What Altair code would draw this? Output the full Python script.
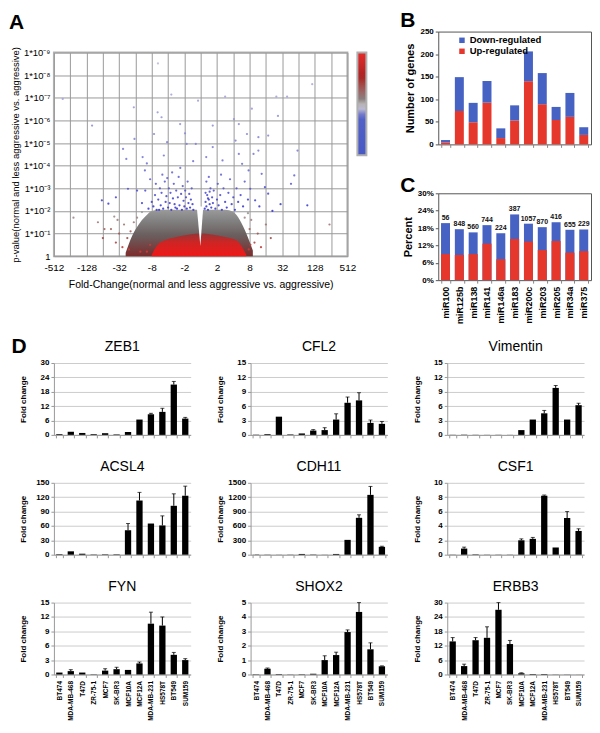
import json
import altair as alt
import pandas as pd

FONT = "Liberation Sans"
RED = "#e5372b"
BLUE = "#4662c2"

# ---------------- Panel A : volcano plot ----------------
x_tick_values = list(range(-9, 10))
x_tick_labels = ["-512", "", "-128", "", "-32", "", "-8", "", "-2", "", "2", "", "8", "", "32", "", "128", "", "512"]
y_tick_values = list(range(0, 10))
y_tick_labels = ["1", "1*10⁻¹", "1*10⁻²", "1*10⁻³", "1*10⁻⁴", "1*10⁻⁵", "1*10⁻⁶", "1*10⁻⁷", "1*10⁻⁸", "1*10⁻⁹"]

# envelope of the dense gray cloud (signed log2 fold change, -log10 p)
cloud_x = [-4.6, -4.2, -3.8, -3.4, -3.0, -2.5, -1.5, -0.5, 0.0, 0.5, 1.5, 2.0, 2.4, 2.8, 3.2]
cloud_top = [0.15, 0.9, 1.4, 1.75, 2.0, 2.05, 2.05, 2.05, 2.05, 2.05, 2.05, 1.95, 1.6, 1.0, 0.25]
# envelope of the dense red core
core_x = [-3.0, -2.7, -2.2, -1.5, -0.8, -0.2, 0.0, 0.2, 0.8, 1.5, 2.2, 2.5, 2.8]
core_top = [0.05, 0.45, 0.7, 0.85, 0.95, 1.0, 1.0, 1.0, 0.95, 0.85, 0.7, 0.45, 0.05]
# empty V-shaped gap at fold change ~ 1
gap_x = [-0.24, -0.02, 0.16]
gap_low = [2.2, 0.45, 2.2]
gap_high = [2.2, 2.2, 2.2]

# scattered individual genes
pts_x = [-3.2, -3.0, -2.9, -2.8, -2.7, -2.6, -2.5, -2.45, -2.4, -2.3, -2.2, -2.15, -2.1, -2.0, -1.95,
         -1.9, -1.85, -1.8, -1.7, -1.65, -1.6, -1.5, -1.45, -1.4, -1.35, -1.3, -1.2, -1.15, -1.1, -1.05,
         -1.0, -0.95, -0.9, -0.85, -0.8, -0.75, -0.7, -0.65, -0.6, -0.55, -0.5, -0.45, -2.75, -3.4, -3.6,
         -2.35, -1.75, -1.25, -2.05, -3.1, -1.55, -2.55,
         0.25, 0.3, 0.35, 0.4, 0.45, 0.5, 0.55, 0.6, 0.65, 0.7, 0.75, 0.8, 0.9, 1.0, 1.05, 1.1, 1.2, 1.3,
         1.4, 1.5, 1.6, 1.7, 1.8, 1.9, 2.0, 2.1, 2.2, 2.3, 2.45, 2.6, 2.7, 0.35, 0.5, 1.25, 2.9, 0.3, 0.45, 0.55,
         -8.46, -2.62, -1.8, -4.1, -6.66, -2.64, -2.4, -1.26, 1.5, 3.14, 4.64, 5.3, 6.84, 4.74, 4.14, 5.94,
         5.74, 5.54, 6.54, -5.66, -6.06, -4.56, -4.46, -4.06, -4.76, -3.56, -3.42, -2.86, -2.26, -2.06, -0.86,
         -0.46, -0.3, 0.34, 0.74, 1.34, 2.14, 2.34, 2.54, 2.94, 3.24, 3.54, 3.74, 3.94, 3.04, 3.34, 4.14, 2.04,
         2.84, 3.54, 2.34, 0.74, -0.96, -0.16, -7.8, 7.9, -5.2, 4.9, -3.9, -3.3, 3.6, 4.4, -5.9, -6.3,
         -4.8, -4.5, -4.3, -4.1, -3.9, -3.6, -5.0, -5.2, -4.7, -5.5, -5.1, -5.3, -6.0, 3.0, 3.3, 3.1, 2.7,
         3.5, 3.7, 2.9, 4.0, 4.3, -3.3, -3.1, 2.95, 3.05, -4.4, -3.7]
pts_y = [2.1, 2.4, 2.2, 2.7, 2.05, 2.5, 3.0, 2.25, 2.8, 2.1, 3.3, 2.4, 2.65, 2.15, 3.0,
         2.35, 2.8, 2.05, 2.55, 3.2, 2.3, 2.9, 2.1, 2.6, 3.5, 2.25, 2.75, 2.05, 3.1, 2.45,
         2.2, 2.9, 2.6, 2.1, 3.3, 2.35, 2.75, 2.15, 2.5, 3.0, 2.3, 2.05, 3.2, 2.9, 2.35,
         3.6, 3.7, 3.9, 3.45, 3.4, 2.15, 2.05,
         2.1, 2.4, 2.2, 2.7, 2.05, 2.5, 2.3, 3.0, 2.15, 2.6, 2.35, 2.9, 2.1, 2.5, 3.2, 2.25, 2.7, 2.05,
         3.0, 2.4, 2.15, 2.8, 3.4, 2.3, 2.6, 2.05, 3.0, 2.4, 2.7, 2.2, 3.3, 3.3, 3.5, 3.6, 2.5, 2.8, 2.55, 2.85,
         6.95, 8.52, 7.14, 6.58, 5.77, 6.36, 6.14, 5.84, 7.05, 6.52, 7.05, 7.05, 7.6, 6.2, 5.33, 4.67,
         3.57, 3.2, 2.25, 2.32, 2.47, 4.3, 2.98, 5.18, 4.74, 4.38, 3.79, 5.4, 4.45, 5.04, 4.96,
         4.2, 4.96, 4.38, 4.82, 4.23, 5.11, 4.52, 4.08, 3.79, 4.52, 4.67, 3.64, 3.05, 2.98, 2.47, 2.76, 6.06,
         5.4, 5.26, 5.84, 5.77, 5.43, 6.87, 1.7, 1.4, 2.6, 2.3, 2.9, 4.1, 2.2, 2.0, 1.2, 1.5,
         0.4, 0.8, 1.1, 1.5, 1.7, 1.95, 1.0, 0.6, 1.4, 1.2, 1.6, 1.75, 0.8, 1.2, 0.6, 1.6, 1.7,
         1.0, 0.4, 1.9, 1.4, 0.8, 0.2, 0.5, 0.3, 0.5, 0.3, 0.2]

# colour bar (p-value key): bottom = 0, top = 1
cb_domain = [0, 0.38, 0.47, 0.55, 0.76, 1]
cb_colors = ["#4858c4", "#5262c8", "#d4d4d4", "#8a7e7e", "#a82222", "#e82a2a"]

dfA_cloud = pd.DataFrame({"x": cloud_x, "y": cloud_top})
dfA_core = pd.DataFrame({"x": core_x, "y": core_top})
dfA_gap = pd.DataFrame({"x": gap_x, "y": gap_high, "y2": gap_low})
dfA_pts = pd.DataFrame({"x": pts_x, "y": pts_y})
dfA_cb = pd.DataFrame({"c": [0, 1]})

axA_x = alt.Axis(values=x_tick_values,
                 labelExpr=json.dumps(x_tick_labels, ensure_ascii=False) + "[datum.value + 9]",
                 title="Fold-Change(normal and less aggressive vs. aggressive)",
                 grid=True, gridColor="#9a9a9a", gridOpacity=1, domain=False,
                 ticks=False, labelFontSize=10, labelFont=FONT, labelColor="#000",
                 titleFont=FONT, titleFontSize=10.5, titleFontWeight="normal", titlePadding=7,
                 labelPadding=6, labelOverlap=False, labelFlush=False)
axA_y = alt.Axis(values=y_tick_values,
                 labelExpr=json.dumps(y_tick_labels, ensure_ascii=False) + "[datum.value]",
                 title="p-value(normal and less aggressive vs. aggressive)",
                 grid=True, gridColor="#9a9a9a", gridOpacity=1, domain=False,
                 ticks=False, labelFontSize=9.5, labelFont=FONT, labelColor="#000",
                 titleFont=FONT, titleFontSize=9.5, titleFontWeight="normal", titlePadding=3,
                 labelPadding=4, labelOverlap=False, labelFlush=False)
scA_x = alt.Scale(domain=[-9, 9], nice=False, zero=False)
scA_y = alt.Scale(domain=[0, 9], nice=False, zero=False)
xA = alt.X("x:Q", scale=scA_x, axis=axA_x)
yA = alt.Y("y:Q", scale=scA_y, axis=axA_y)

grad_cloud = alt.Gradient(gradient="linear", x1=0, x2=0, y1=1, y2=0,
                          stops=[alt.GradientStop(offset=0, color="#7c2c2c"),
                                 alt.GradientStop(offset=0.45, color="#6a5e5e"),
                                 alt.GradientStop(offset=0.8, color="#858585"),
                                 alt.GradientStop(offset=1, color="#9a9a9a")])
grad_core = alt.Gradient(gradient="linear", x1=0, x2=0, y1=1, y2=0,
                         stops=[alt.GradientStop(offset=0, color="#ee1818"),
                                alt.GradientStop(offset=0.6, color="#d02424"),
                                alt.GradientStop(offset=1, color="#943636")])


def letter(ch, dx, dy):
    return alt.Chart(pd.DataFrame({"t": [ch]})).mark_text(
        font=FONT, fontSize=21, fontWeight="bold", align="left", baseline="top", color="#000"
    ).encode(x=alt.value(dx), y=alt.value(dy), text="t:N")


a_cloud = alt.Chart(dfA_cloud).mark_area(color=grad_cloud, interpolate="monotone").encode(x=xA, y=yA)
a_core = alt.Chart(dfA_core).mark_area(color=grad_core, interpolate="monotone").encode(x=xA, y=yA)
a_gap = alt.Chart(dfA_gap).mark_area(color="white").encode(x=xA, y=yA, y2="y2:Q")
a_pts = alt.Chart(dfA_pts).mark_circle(size=5, opacity=0.9).encode(
    x=xA, y=yA,
    color=alt.Color("y:Q", legend=None,
                    scale=alt.Scale(domain=[0, 0.8, 1.95, 2.0, 4, 9],
                                    range=["#e03030", "#a04848", "#9a9a9a", "#3838d0", "#7474d4", "#c4c4dc"])))
a_cb = alt.Chart(dfA_cb).mark_point(opacity=0).encode(
    x=alt.value(0), y=alt.value(0),
    color=alt.Color("c:Q", scale=alt.Scale(domain=cb_domain, range=cb_colors),
                    legend=alt.Legend(title=None, labelExpr="''", labelFontSize=1, gradientLength=103,
                                      gradientThickness=9, gradientStrokeColor="#b0b0b0",
                                      gradientStrokeWidth=2, offset=10, padding=0)))

panelA = alt.layer(a_cloud, a_core, a_gap, a_pts, a_cb).resolve_scale(
    color="independent").properties(
    width=294, height=204,
    view=alt.ViewBackground(stroke="#b4b4b4", strokeWidth=2))
# strip holding the panel letter above the volcano plot
spacerA = letter("A", -45, -20).properties(width=294, height=1)

# ---------------- Panel B : number of target genes ----------------
mirs = ["miR100", "miR125b", "miR138", "miR141", "miR146a", "miR183", "miR200c", "miR203", "miR205", "miR34a", "miR375"]
b_up = [4.4, 74, 49, 92.5, 14, 53, 140, 89, 54, 61, 21]
b_down = [5.2, 75, 43, 48, 21.5, 33.5, 66, 69, 29, 53, 17]

dfB = pd.DataFrame({"mir": mirs * 2,
                    "reg": ["Up-regulated"] * len(mirs) + ["Down-regulated"] * len(mirs),
                    "n": b_up + b_down})

b_bars = alt.Chart(dfB).transform_calculate(
    ord="datum.reg == 'Up-regulated' ? 0 : 1"
).mark_bar().encode(
    x=alt.X("mir:N", sort=mirs, scale=alt.Scale(paddingInner=0.35, paddingOuter=0.2),
            axis=alt.Axis(labels=False, title=None, tickBand="extent", domain=False,
                          tickColor="#888", tickSize=3)),
    y=alt.Y("n:Q", stack="zero", scale=alt.Scale(domain=[0, 250], nice=False),
            axis=alt.Axis(values=[0, 50, 100, 150, 200, 250], grid=False, domain=False,
                          title="Number of genes", titleFont=FONT, titleFontSize=11,
                          titleFontWeight="bold", labelFont=FONT, labelFontSize=8,
                          labelFontWeight="bold", labelColor="#000", tickColor="#555",
                          tickSize=3, titlePadding=4)),
    color=alt.Color("reg:N", scale=alt.Scale(domain=["Down-regulated", "Up-regulated"], range=[BLUE, RED]),
                    legend=alt.Legend(title=None, orient="none", legendX=19, legendY=4,
                                      labelFont=FONT, labelFontSize=9.5, labelFontWeight="bold",
                                      symbolType="square", symbolSize=30, symbolStrokeWidth=0,
                                      rowPadding=0, padding=0, labelOffset=3)),
    order=alt.Order("ord:Q")
)
panelB = alt.layer(b_bars, letter("B", -38, -22)).properties(
    width=153, height=113, view=alt.ViewBackground(stroke="#555", strokeWidth=1))

# ---------------- Panel C : percent of genes ----------------
c_total_pct = [19.7, 17.6, 16.5, 19.0, 16.2, 22.7, 19.5, 18.3, 20.0, 17.4, 17.5]
c_up_pct = [9.0, 8.7, 9.0, 12.6, 7.2, 14.2, 13.3, 10.4, 13.5, 9.5, 10.0]
c_n = [56, 848, 560, 744, 224, 387, 1057, 870, 416, 655, 229]

dfC = pd.DataFrame({"mir": mirs, "total": c_total_pct, "up": c_up_pct, "n": c_n})

axC_x = alt.Axis(title=None, labelAngle=270, labelFont=FONT, labelFontSize=9,
                 labelFontWeight="bold", labelColor="#000", tickBand="extent", domain=False,
                 tickColor="#888", tickSize=3, labelPadding=3)
axC_y = alt.Axis(values=[0, 6, 12, 18, 24, 30], labelExpr="datum.value + '%'", grid=False,
                 domain=False, title="Percent", titleFont=FONT, titleFontSize=11,
                 titleFontWeight="bold", labelFont=FONT, labelFontSize=8, labelFontWeight="bold",
                 labelColor="#000", tickColor="#555", tickSize=3, titlePadding=4)
scC_x = alt.Scale(paddingInner=0.35, paddingOuter=0.2)
scC_y = alt.Scale(domain=[0, 30], nice=False)
xC = alt.X("mir:N", sort=mirs, scale=scC_x, axis=axC_x)
c_blue = alt.Chart(dfC).mark_bar(color=BLUE).encode(
    x=xC, y=alt.Y("total:Q", scale=scC_y, axis=axC_y))
c_red = alt.Chart(dfC).mark_bar(color=RED).encode(
    x=xC, y=alt.Y("up:Q", scale=scC_y, axis=axC_y))
c_txt = alt.Chart(dfC).mark_text(font=FONT, fontSize=7, fontWeight="bold", dy=-5, color="#111").encode(
    x=xC, y=alt.Y("total:Q", scale=scC_y, axis=axC_y), text="n:Q")
panelC = alt.layer(c_blue, c_red, c_txt, letter("C", -38, -18)).properties(
    width=153, height=87, view=alt.ViewBackground(stroke="#555", strokeWidth=1))

# ---------------- Panel D : qPCR fold changes ----------------
cells = ["BT474", "MDA-MB-468", "T47D", "ZR-75-1", "MCF7", "SK-BR3", "MCF10A", "MCF12A",
         "MDA-MB-231", "HS578T", "BT549", "SUM159"]

zeb1_v = [0.3, 1.3, 0.8, 0.3, 0.7, 0.2, 1.2, 6.4, 8.6, 9.6, 21.0, 6.8]
zeb1_e = [0, 0, 0, 0, 0, 0, 0, 0, 0.4, 1.5, 1.3, 0.5]
cfl2_v = [0.05, 0.15, 3.8, 0.1, 0.3, 0.9, 1.0, 3.2, 6.7, 7.2, 2.5, 2.3]
cfl2_e = [0, 0, 0, 0, 0, 0.2, 0.5, 1.2, 1.2, 1.6, 0.6, 0.5]
vim_v = [0.03, 0.05, 0.03, 0.02, 0.03, 0.02, 1.0, 3.2, 4.5, 9.8, 3.2, 6.2]
vim_e = [0, 0, 0, 0, 0, 0, 0, 0, 0.6, 0.5, 0, 0.4]
acsl4_v = [1, 7, 2, 0.5, 0.8, 0.8, 51, 113, 65, 61, 102, 123]
acsl4_e = [0, 0, 0, 0, 0, 0, 14, 17, 0, 20, 25, 20]
cdh11_v = [2, 3, 2, 3, 15, 5, 2, 15, 309, 769, 1248, 164]
cdh11_e = [0, 0, 0, 0, 0, 0, 0, 0, 0, 63, 176, 12]
csf1_v = [0.02, 0.85, 0.05, 0.02, 0.02, 0.02, 2.0, 2.2, 8.2, 1.0, 5.1, 3.3]
csf1_e = [0, 0.2, 0, 0, 0, 0, 0.2, 0.2, 0.1, 0, 0.9, 0.3]
fyn_v = [0.4, 0.7, 0.4, 0.05, 0.8, 1.1, 0.95, 2.3, 10.6, 10.2, 4.1, 3.0]
fyn_e = [0, 0.3, 0, 0, 0.4, 0.4, 0, 0.3, 2.4, 1.8, 0.5, 0.3]
shox2_v = [0.02, 0.4, 0.03, 0.01, 0.02, 0.05, 1.0, 1.35, 2.95, 4.35, 1.75, 0.57]
shox2_e = [0, 0.05, 0, 0, 0, 0, 0.3, 0.2, 0.15, 0.65, 0.45, 0.03]
erbb3_v = [13.8, 3.5, 14.3, 15.3, 27.0, 12.7, 0.5, 0.2, 0.2, 0.05, 0.05, 0.02]
erbb3_e = [1.6, 0.8, 1.1, 4.6, 3.0, 1.5, 0.2, 0, 0, 0, 0, 0]

DW, DH = 137, 72


def gene_chart(name, vals, errs, ymax, step, bottom):
    df = pd.DataFrame({"cell": cells, "v": vals, "e": errs})
    scx = alt.Scale(paddingInner=0.45, paddingOuter=0.2)
    scy = alt.Scale(domain=[0, ymax], nice=False)
    axx = alt.Axis(title=None, labels=bottom, labelAngle=270, labelFont=FONT, labelFontSize=6.5,
                   labelFontWeight="bold", labelColor="#000", tickBand="extent",
                   domainColor="#999", tickColor="#999", tickSize=3, labelPadding=3)
    axy = alt.Axis(values=list(range(0, ymax + 1, step)), grid=True, gridColor="#cccccc",
                   domainColor="#999", tickColor="#999", tickSize=3, format="d",
                   title="Fold change", titleFont=FONT, titleFontSize=8, titleFontWeight="bold",
                   labelFont=FONT, labelFontSize=8, labelFontWeight="bold", labelColor="#000",
                   titlePadding=4, labelPadding=2, minExtent=22, maxExtent=22)
    xD = alt.X("cell:N", sort=cells, scale=scx, axis=axx)
    bars = alt.Chart(df).mark_bar(color="black").encode(x=xD, y=alt.Y("v:Q", scale=scy, axis=axy))
    eb = alt.Chart(df).transform_filter("datum.e > 0").transform_calculate(t="datum.v + datum.e")
    err = eb.mark_rule(color="black", strokeWidth=1).encode(
        x=xD, y=alt.Y("v:Q", scale=scy, axis=axy), y2="t:Q")
    cap = eb.mark_tick(color="black", thickness=1, size=4).encode(
        x=xD, y=alt.Y("t:Q", scale=scy, axis=axy))
    return alt.layer(bars, err, cap).properties(
        width=DW, height=DH,
        title=alt.TitleParams(name, font=FONT, fontSize=14, fontWeight="normal", offset=5))


panelD = alt.concat(
    gene_chart("ZEB1", zeb1_v, zeb1_e, 30, 6, False),
    gene_chart("CFL2", cfl2_v, cfl2_e, 15, 3, False),
    gene_chart("Vimentin", vim_v, vim_e, 15, 3, False),
    gene_chart("ACSL4", acsl4_v, acsl4_e, 150, 30, False),
    gene_chart("CDH11", cdh11_v, cdh11_e, 1500, 300, False),
    gene_chart("CSF1", csf1_v, csf1_e, 10, 2, False),
    gene_chart("FYN", fyn_v, fyn_e, 15, 3, True),
    gene_chart("SHOX2", shox2_v, shox2_e, 5, 1, True),
    gene_chart("ERBB3", erbb3_v, erbb3_e, 30, 6, True),
    columns=3, spacing=alt.RowColnumber(row=19, column=24)
).properties(title=alt.TitleParams("D", anchor="start", frame="bounds", fontSize=21, fontWeight="bold",
                                   font=FONT, offset=-17, dx=-8))

colA = alt.vconcat(spacerA, panelA, spacing=11)
colBC = alt.vconcat(panelB, panelC, spacing=25).resolve_scale(color="independent")
top = alt.hconcat(colA, colBC, spacing=30).resolve_scale(color="independent")

chart = alt.vconcat(top, panelD, spacing=10).resolve_scale(color="independent").properties(
    padding=0).configure(font=FONT).configure_view(stroke="transparent").configure_axis(labelColor="#000")

chart.save("out.html", embed_options={"renderer": "svg", "actions": False})
